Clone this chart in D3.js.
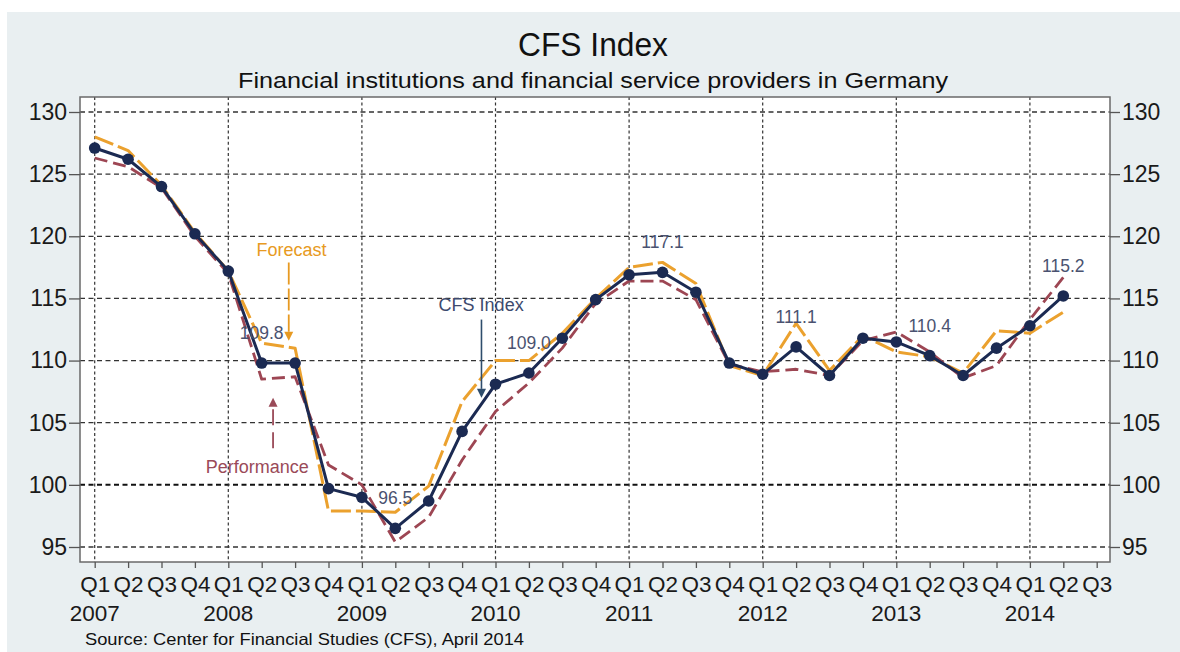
<!DOCTYPE html>
<html>
<head>
<meta charset="utf-8">
<script src="https://cdn.jsdelivr.net/npm/d3@7"></script>
<style>
  html, body { margin: 0; padding: 0; background: #ffffff; }
  svg { display: block; font-family: "Liberation Sans", Arial, Helvetica, sans-serif; }
</style>
</head>
<body>
<svg id="chart" width="1180" height="652"></svg>
<script>
// ---------- data ----------
const quarterLabels = ["Q1","Q2","Q3","Q4","Q1","Q2","Q3","Q4","Q1","Q2","Q3","Q4",
  "Q1","Q2","Q3","Q4","Q1","Q2","Q3","Q4","Q1","Q2","Q3","Q4","Q1","Q2","Q3","Q4",
  "Q1","Q2","Q3"];
const yearLabels = ["2007","2008","2009","2010","2011","2012","2013","2014"];
const yTicks = [95, 100, 105, 110, 115, 120, 125, 130];

// CFS Index (Q1 2007 .. Q2 2014)
const cfsIndex = [127.1,126.2,124.0,120.2, 117.2,109.8,109.8,99.7, 99.0,96.5,98.7,104.3,
  108.1,109.0,111.8,114.9, 116.9,117.1,115.5,109.8, 108.9,111.1,108.8,111.8,
  111.5,110.4,108.8,111.0, 112.8,115.2];
// Forecast
const forecast = [128.0,126.9,124.1,120.3, 117.2,111.4,111.0,97.9, 97.9,97.8,99.9,106.7,
  110.0,110.0,112.2,115.0, 117.5,117.9,116.2,109.6, 108.8,113.0,109.2,112.0,
  110.7,110.3,109.0,112.4, 112.2,113.9];
// Performance
const performance = [126.3,125.6,123.9,120.0, 117.0,108.5,108.7,101.6, 100.0,95.4,97.4,102.0,
  105.9,108.2,111.0,114.6, 116.4,116.4,114.9,109.7, 109.1,109.3,108.8,111.6,
  112.3,110.7,108.6,109.6, 113.3,116.7];

// value labels (quarter index, text)
const valueLabelIdx = [5, 9, 13, 17, 21, 25, 29];

// ---------- layout ----------
const svg = d3.select("#chart");
const W = 1180, H = 652;
const frame = {left: 80, right: 1110, top: 97, bottom: 562};

const x = d3.scaleLinear().domain([0, 30]).range([94.7, 1096.7]);
const y = d3.scaleLinear().domain([95, 130]).range([547, 112]);

const navy = "#1b2a52", orange = "#eba12e", maroon = "#9d4653", labelCol = "#4a5270";

// background
svg.append("rect").attr("width", W).attr("height", H).attr("fill", "#ffffff");
svg.append("rect").attr("x", 7).attr("y", 12).attr("width", W - 7).attr("height", H - 12).attr("fill", "#e9eff1");

// plot area
svg.append("rect")
  .attr("x", frame.left).attr("y", frame.top)
  .attr("width", frame.right - frame.left).attr("height", frame.bottom - frame.top)
  .attr("fill", "#ffffff");

// horizontal gridlines
svg.append("g").selectAll("line").data(yTicks).join("line")
  .attr("x1", frame.left).attr("x2", frame.right)
  .attr("y1", d => y(d)).attr("y2", d => y(d))
  .attr("stroke", d => d === 100 ? "#111" : "#333")
  .attr("stroke-width", d => d === 100 ? 2 : 1.3)
  .attr("stroke-dasharray", "5,3.5");

// vertical gridlines at Q1
const q1Idx = quarterLabels.map((q, i) => q === "Q1" ? i : -1).filter(i => i >= 0);
svg.append("g").selectAll("line").data(q1Idx).join("line")
  .attr("x1", d => x(d)).attr("x2", d => x(d))
  .attr("y1", frame.top).attr("y2", frame.bottom)
  .attr("stroke", "#333").attr("stroke-width", 1.2)
  .attr("stroke-dasharray", "3,2.6");

// frame
svg.append("rect")
  .attr("x", frame.left).attr("y", frame.top)
  .attr("width", frame.right - frame.left).attr("height", frame.bottom - frame.top)
  .attr("fill", "none").attr("stroke", "#6a6a6a").attr("stroke-width", 1.5);

// y axes
const yAxisL = d3.axisLeft(y).tickValues(yTicks).tickSize(11).tickPadding(2);
const gL = svg.append("g").attr("transform", `translate(${frame.left},0)`).call(yAxisL);
const yAxisR = d3.axisRight(y).tickValues(yTicks).tickSize(10).tickPadding(2);
const gR = svg.append("g").attr("transform", `translate(${frame.right},0)`).call(yAxisR);
[gL, gR].forEach(g => {
  g.select(".domain").remove();
  g.selectAll(".tick line").attr("stroke", "#555").attr("stroke-width", 1.3);
  g.selectAll(".tick text").attr("fill", "#1a1a1a").attr("font-size", 23)
    .attr("font-family", "Liberation Sans, Arial, sans-serif");
});

// x axis
const xAxis = d3.axisBottom(x).tickValues(d3.range(0, 31)).tickSize(6).tickFormat(i => quarterLabels[i]).tickPadding(8);
const gX = svg.append("g").attr("transform", `translate(0,${frame.bottom})`).call(xAxis);
gX.select(".domain").remove();
gX.selectAll(".tick line").attr("stroke", "#555").attr("stroke-width", 1.3);
gX.selectAll(".tick text").attr("fill", "#1a1a1a").attr("font-size", 22.5)
  .attr("font-family", "Liberation Sans, Arial, sans-serif")
  .attr("textLength", 30).attr("lengthAdjust", "spacingAndGlyphs");

// year labels
svg.append("g").selectAll("text").data(yearLabels).join("text")
  .attr("x", (d, i) => x(i * 4)).attr("y", 621)
  .attr("text-anchor", "middle").attr("font-size", 22.5).attr("fill", "#1a1a1a")
  .text(d => d);

// lines
const lineGen = d3.line().x((d, i) => x(i)).y(d => y(d));
svg.append("path").datum(forecast).attr("d", lineGen)
  .attr("fill", "none").attr("stroke", orange).attr("stroke-width", 3)
  .attr("stroke-dasharray", "20,5").attr("stroke-linejoin", "round");
svg.append("path").datum(performance).attr("d", lineGen)
  .attr("fill", "none").attr("stroke", maroon).attr("stroke-width", 2.8)
  .attr("stroke-dasharray", "13,6").attr("stroke-linejoin", "round");
svg.append("path").datum(cfsIndex).attr("d", lineGen)
  .attr("fill", "none").attr("stroke", navy).attr("stroke-width", 3)
  .attr("stroke-linejoin", "round");
svg.append("g").selectAll("circle").data(cfsIndex).join("circle")
  .attr("cx", (d, i) => x(i)).attr("cy", d => y(d)).attr("r", 5.8).attr("fill", navy);

// value labels
svg.append("g").selectAll("text").data(valueLabelIdx).join("text")
  .attr("x", i => x(i)).attr("y", i => y(cfsIndex[i]) - 30).attr("dy", "0.35em")
  .attr("text-anchor", "middle").attr("font-size", 17.5).attr("fill", labelCol)
  .text(i => cfsIndex[i].toFixed(1));

// annotations
function arrow(xi, vFrom, vTip, color, dash, width) {
  const px = x(xi), y0 = y(vFrom), yt = y(vTip);
  const dir = yt > y0 ? 1 : -1;
  const headLen = 9, headW = 4.5;
  svg.append("line").attr("x1", px).attr("x2", px).attr("y1", y0).attr("y2", yt - dir * headLen)
    .attr("stroke", color).attr("stroke-width", width).attr("stroke-dasharray", dash);
  svg.append("path")
    .attr("d", `M${px},${yt} L${px - headW},${yt - dir * headLen} L${px + headW},${yt - dir * headLen} Z`)
    .attr("fill", color);
}
function note(xi, v, txt, color) {
  svg.append("text").attr("x", x(xi)).attr("y", y(v)).attr("dy", "0.35em")
    .attr("text-anchor", "middle").attr("font-size", 18).attr("fill", color).text(txt);
}
note(5.89, 118.9, "Forecast", "#e79a22");
arrow(5.81, 117.9, 111.6, "#e79a22", "22,4", 1.8);
note(4.87, 101.45, "Performance", "#9a4a58");
arrow(5.34, 102.95, 107.0, "#9a4a58", "16,7", 1.8);
note(11.57, 114.47, "CFS Index", "#3d4a6e");
arrow(11.58, 113.3, 107.0, "#2f4d6c", null, 1.6);

// titles
svg.append("text").attr("x", 593).attr("y", 56).attr("text-anchor", "middle")
  .attr("font-size", 33).attr("fill", "#111").attr("textLength", 150)
  .attr("lengthAdjust", "spacingAndGlyphs").text("CFS Index");
svg.append("text").attr("x", 593).attr("y", 88).attr("text-anchor", "middle")
  .attr("font-size", 22).attr("fill", "#111").attr("textLength", 710)
  .attr("lengthAdjust", "spacingAndGlyphs")
  .text("Financial institutions and financial service providers in Germany");

// source
svg.append("text").attr("x", 85).attr("y", 645).attr("font-size", 16.5).attr("fill", "#111")
  .attr("textLength", 439).attr("lengthAdjust", "spacingAndGlyphs")
  .text("Source: Center for Financial Studies (CFS), April 2014");
</script>
</body>
</html>
